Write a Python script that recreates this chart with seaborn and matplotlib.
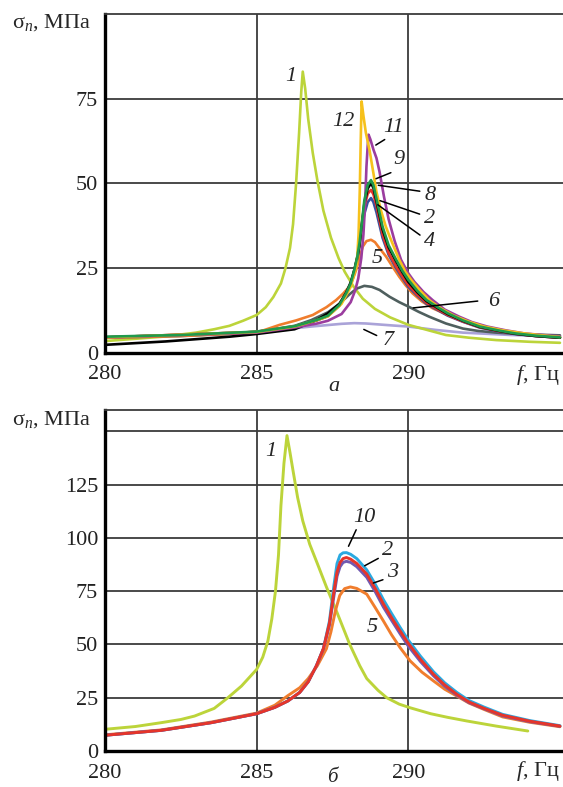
import matplotlib
matplotlib.use('Agg')
import matplotlib.pyplot as plt
import seaborn as sns

sns.set_style('white')
plt.rcParams['font.family'] = ['Liberation Serif', 'DejaVu Serif']
plt.rcParams['mathtext.fontset'] = 'custom'
plt.rcParams['mathtext.rm'] = 'Liberation Serif'
plt.rcParams['mathtext.it'] = 'Liberation Serif:italic'

# ---- panel а : stress amplitude vs frequency ----
a1_f = [280, 281.9, 283.0, 283.6, 284.1, 284.55, 285.0, 285.3, 285.55, 285.8, 285.95, 286.1, 286.2,
        286.3, 286.4, 286.47, 286.52, 286.6, 286.7, 286.85, 287.0, 287.2, 287.45, 287.7, 287.9,
        288.2, 288.5, 288.9, 289.4, 290.0, 290.7, 291.24, 292.0, 292.9, 294.0, 295.0]
a1_v = [3.5, 4.8, 6.0, 7.0, 8.0, 9.5, 11.2, 13.5, 16.5, 20.5, 25, 31, 38,
        50, 65, 77, 83, 78, 69, 59, 51, 42, 34, 28, 24,
        19.5, 16, 13, 10.5, 8.3, 6.6, 5.3, 4.5, 3.8, 3.3, 3.0]

a9_f = [280, 282.5, 285.0, 286.25, 287.0, 287.35, 287.73, 287.95, 288.1, 288.22, 288.32, 288.39,
        288.47, 288.55, 288.66, 288.77, 288.85, 288.95, 289.15, 289.35, 289.6, 289.8, 290.0,
        290.3, 290.6, 291.0, 291.3, 291.8, 292.35, 293.0, 293.5, 294.2, 295]
a9_v = [4.8, 5.3, 6.3, 7.9, 9.8, 11.0, 14.2, 17.6, 20.5, 24.5, 28.5, 32.4,
        38.5, 45, 49.5, 51, 49.5, 45.5, 37.3, 31.8, 27.5, 24.3, 21.6,
        18.3, 15.6, 13.3, 11.7, 9.6, 7.8, 6.6, 5.8, 5.1, 4.6]

a8_f = [280, 282, 284.1, 285.0, 286.25, 287.0, 287.35, 287.73, 287.95, 288.1, 288.22, 288.32,
        288.39, 288.47, 288.55, 288.66, 288.77, 288.85, 288.95, 289.15, 289.35, 289.6, 289.8,
        290.0, 290.3, 290.6, 291.0, 291.3, 291.8, 292.35, 293.0, 293.5, 294.2, 295]
a8_v = [2.4, 3.4, 4.8, 5.6, 7.0, 9.8, 11.7, 14.5, 17.8, 20.8, 24.5, 28.3,
        32, 38, 44, 48.5, 50.1, 48.7, 44.8, 36.5, 31.2, 27, 23.9,
        21, 17.9, 15.3, 13.1, 11.5, 9.5, 7.7, 6.5, 5.7, 5.0, 4.5]

a2_f = [280, 285.0, 286.25, 287.0, 287.35, 287.73, 287.95, 288.1, 288.22, 288.32, 288.39, 288.47,
        288.55, 288.66, 288.77, 288.85, 288.95, 289.15, 289.35, 289.6, 289.8, 290.0, 290.3,
        290.6, 291.0, 291.3, 291.8, 292.35, 293.0, 293.5, 294.2, 295]
a2_v = [4.6, 6.2, 7.8, 9.7, 10.9, 14.0, 17.4, 20.3, 24.2, 28.2, 32, 38,
        43, 47, 48.1, 46.8, 43.5, 35, 29.5, 25.5, 22.6, 20, 17.2,
        14.8, 12.7, 11.2, 9.3, 7.6, 6.4, 5.7, 5.0, 4.5]

a4_f = [280, 285.0, 286.25, 287.0, 287.35, 287.73, 287.95, 288.1, 288.22, 288.32, 288.39, 288.47,
        288.55, 288.66, 288.77, 288.85, 288.95, 289.15, 289.35, 289.6, 289.8, 290.0, 290.3,
        290.6, 291.0, 291.3, 291.8, 292.35, 293.0, 293.5, 294.2, 295]
a4_v = [4.6, 6.2, 7.8, 9.7, 10.9, 14.0, 17.4, 20.2, 24.0, 28, 31.5, 37.5,
        41, 44.5, 45.7, 44.5, 41.5, 34, 29, 25, 22.2, 19.5, 16.9,
        14.5, 12.5, 11.0, 9.2, 7.5, 6.3, 5.6, 5.0, 4.5]

a11_f = [280, 285.0, 286.25, 287.0, 287.35, 287.8, 288.1, 288.25, 288.35, 288.45, 288.52, 288.57,
         288.62, 288.66, 288.69, 288.75, 288.85, 288.95, 289.05, 289.2, 289.35, 289.55, 289.76,
         290.0, 290.2, 290.5, 290.8, 291.2, 291.68, 292.1, 292.6, 293.2, 293.8, 294.4, 295]
a11_v = [4.6, 6.0, 7.5, 8.7, 9.5, 11.5, 15, 18.5, 22, 28, 35, 43,
         55, 61, 64.4, 63, 60, 57.5, 53.5, 46, 39.5, 33, 27.5,
         23.5, 21, 18, 15.6, 12.8, 10.7, 9.1, 7.8, 6.7, 5.8, 5.3, 4.9]

a12_f = [280, 285.0, 286.25, 287.0, 287.35, 287.8, 288.1, 288.3, 288.36, 288.4, 288.43, 288.46,
         288.52, 288.6, 288.72, 288.85, 288.95, 289.1, 289.25, 289.4, 289.7, 289.9, 290.1,
         290.4, 290.7, 291.1, 291.5, 292.0, 292.5, 293.1, 293.8, 294.4, 295]
a12_v = [4.6, 6.2, 7.8, 9.7, 10.8, 14.5, 19.5, 26, 35, 48, 62, 74.2,
         70, 65, 59.9, 53, 47.5, 42, 37.5, 34, 27.5, 24, 21.5,
         18.3, 15.5, 13, 11, 9.2, 7.8, 6.7, 5.8, 5.2, 4.7]

a5_f = [280, 282.5, 285.0, 285.76, 286.3, 286.85, 287.3, 287.62, 287.85, 288.06, 288.18, 288.28,
        288.4, 288.5, 288.62, 288.77, 288.9, 289.0, 289.27, 289.5, 289.7, 289.9, 290.14,
        290.45, 290.8, 291.2, 291.6, 292.1, 292.6, 293.2, 293.8, 294.4, 295]
a5_v = [4.5, 5.0, 6.0, 8.3, 9.6, 11.2, 13.5, 15.6, 17.5, 19.6, 22, 24.5,
        28.3, 31.4, 33, 33.4, 32.7, 31.5, 28.4, 25.2, 22.5, 20.1, 17.6,
        15.2, 13.2, 11.6, 10.2, 8.6, 7.3, 6.3, 5.5, 5.0, 4.6]

a6_f = [280, 282.5, 284.0, 285.0, 285.7, 286.25, 286.8, 287.35, 287.73, 288.06, 288.3, 288.55,
        288.8, 289.05, 289.38, 289.7, 290.0, 290.35, 290.69, 291.24, 291.8, 292.3, 292.9,
        293.9, 295]
a6_v = [4.5, 5.0, 5.6, 6.3, 7.2, 8.0, 9.7, 12.0, 14.5, 17.3, 19.0, 19.8,
        19.5, 18.6, 16.6, 15.0, 13.7, 12.1, 10.7, 8.7, 7.2, 6.5, 6.0,
        5.5, 5.2]

a7_f = [280, 281.5, 282.5, 283.8, 285.0, 285.7, 286.25, 286.8, 287.3, 287.8, 288.22, 288.6,
        289.05, 289.5, 290.0, 290.9, 291.8, 293.4, 295]
a7_v = [4.6, 4.9, 5.2, 5.6, 6.0, 6.7, 7.3, 7.8, 8.2, 8.6, 8.8, 8.7,
        8.4, 8.1, 7.8, 6.8, 6.0, 5.3, 4.9]

# ---- panel б ----
b1_f = [280, 281.0, 281.85, 282.5, 282.95, 283.6, 284.05, 284.5, 285.0, 285.2, 285.37, 285.5,
        285.62, 285.72, 285.8, 285.9, 286.0, 286.1, 286.2, 286.35, 286.52, 286.75, 287.0,
        287.3, 287.63, 288.07, 288.4, 288.63, 289.0, 289.29, 289.7, 290.06, 290.74, 291.3,
        291.93, 292.9, 293.94]
b1_v = [10.2, 11.5, 13.3, 14.8, 16.4, 20, 25, 30.5, 38.3, 44, 51.6, 62,
        75, 92, 115, 135, 148, 140, 131.5, 119, 108, 97, 88,
        77, 65.7, 50, 40, 34, 28.5, 25, 22, 20.3, 17.5, 15.8,
        14.1, 11.7, 9.4]

b5_f = [280, 281.85, 283.5, 285.0, 285.6, 286.03, 286.42, 286.7, 287.0, 287.3, 287.45, 287.6,
        287.74, 287.9, 288.09, 288.3, 288.63, 288.9, 289.18, 289.45, 289.73, 290.06, 290.45,
        290.83, 291.2, 291.6, 292.0, 292.5, 293.11, 294.0, 295]
b5_v = [7.6, 9.9, 13.6, 17.8, 21.5, 26, 29.7, 34, 40, 48, 56, 66,
        73, 76.2, 77, 76.3, 73.6, 67.5, 61, 54.5, 48.5, 42.3, 37,
        32.9, 29, 25.8, 22.5, 19.5, 16, 13.5, 11.4]

b10_f = [280, 281.85, 283.5, 285.0, 285.6, 286.03, 286.42, 286.7, 286.97, 287.2, 287.4, 287.55,
         287.65, 287.75, 287.85, 287.96, 288.1, 288.3, 288.63, 288.9, 289.18, 289.45, 289.73,
         290.0, 290.4, 290.83, 291.2, 291.6, 292.0, 292.5, 293.11, 294.0, 295]
b10_v = [7.4, 9.7, 13.3, 17.5, 20.5, 23.5, 27.5, 32.5, 40, 48, 61, 78,
         88, 92, 93, 93.1, 92.3, 90.3, 85, 78.5, 71, 64.5, 58,
         52, 44.5, 37.2, 32, 27.5, 23.7, 20.6, 17.2, 14.3, 11.9]

b3_f = [280, 281.85, 283.5, 285.0, 285.6, 286.03, 286.42, 286.7, 286.97, 287.2, 287.4, 287.55,
        287.65, 287.75, 287.85, 287.96, 288.1, 288.3, 288.63, 288.9, 289.18, 289.45, 289.73,
        290.0, 290.4, 290.83, 291.2, 291.6, 292.0, 292.5, 293.11, 294.0, 295]
b3_v = [7.4, 9.7, 13.3, 17.5, 20.5, 23.5, 27.5, 32.5, 40, 48, 59, 73,
         82, 86.5, 88.5, 89, 88.5, 86.5, 81.5, 75, 67.5, 61.3, 55,
         49.2, 42, 35.3, 30.4, 26.2, 22.7, 19.8, 16.5, 13.8, 11.6]

b2_f = [280, 281.85, 283.5, 285.0, 285.6, 286.03, 286.42, 286.7, 286.97, 287.2, 287.4, 287.55,
        287.65, 287.75, 287.85, 287.96, 288.1, 288.3, 288.63, 288.9, 289.18, 289.45, 289.73,
        290.0, 290.4, 290.83, 291.2, 291.6, 292.0, 292.5, 293.11, 294.0, 295]
b2_v = [7.4, 9.7, 13.3, 17.5, 20.5, 23.5, 27.5, 32.5, 40, 48, 60, 75,
        84, 88.5, 90.3, 90.8, 90, 88, 83, 76.5, 69, 62.5, 56.3,
        50.5, 43, 36, 31, 26.6, 23, 20, 16.8, 14, 11.7]

c_yg = '#bcd43a'
c_gold = '#f6c11c'
c_purple = '#9b3d9f'
c_green = '#1f9a4c'
c_red = '#e5352a'
c_blue = '#3550a2'
c_orange = '#f07d2d'
c_gray = '#4f5f5e'
c_lav = '#aaa3d8'
c_cyan = '#2aa9e0'
c_violet = '#7159b0'

fig = plt.figure(figsize=(5.63, 7.87), dpi=100)
ax_a = fig.add_axes([0.1865, 0.5515, 0.8135, 0.4307])
ax_b = fig.add_axes([0.1865, 0.0457, 0.8135, 0.4333])


def style_axes(ax, ymax, yticks, ylabels):
    ax.set_xlim(280, 295.1)
    ax.set_ylim(0, ymax)
    ax.set_xticks([280, 285, 290])
    ax.set_xticklabels(['280', '285', '290'])
    ax.set_yticks(yticks)
    ax.set_yticklabels(ylabels)
    ax.grid(True, color='#3c3c3c', linewidth=1.3)
    ax.set_axisbelow(True)
    for s in ['left', 'bottom']:
        ax.spines[s].set_linewidth(2.4)
        ax.spines[s].set_color('black')
    ax.spines['top'].set_linewidth(1.3)
    ax.spines['top'].set_color('#3c3c3c')
    ax.spines['right'].set_visible(False)
    ax.tick_params(axis='x', length=0, labelsize=16, pad=9, labelcolor='#222222')
    ax.tick_params(axis='y', length=0, labelsize=16, pad=5, labelcolor='#222222')
    ax.set_xlabel('')
    ax.set_ylabel('')


lw = 1.9
top_curves = [(a7_f, a7_v, c_lav), (a1_f, a1_v, c_yg), (a6_f, a6_v, c_gray),
              (a5_f, a5_v, c_orange), (a4_f, a4_v, c_blue), (a2_f, a2_v, c_red),
              (a8_f, a8_v, 'black'), (a11_f, a11_v, c_purple), (a12_f, a12_v, c_gold),
              (a9_f, a9_v, c_green)]
for f, v, c in top_curves:
    sns.lineplot(x=f, y=v, color=c, linewidth=lw, sort=False, ax=ax_a)

bottom_curves = [(b1_f, b1_v, c_yg), (b5_f, b5_v, c_orange), (b10_f, b10_v, c_cyan),
                 (b3_f, b3_v, c_violet), (b2_f, b2_v, c_red)]
for f, v, c in bottom_curves:
    sns.lineplot(x=f, y=v, color=c, linewidth=2.1, sort=False, ax=ax_b)

style_axes(ax_a, 100, [0, 25, 50, 75], ['0', '25', '50', '75'])
style_axes(ax_b, 160, [0, 25, 50, 75, 100, 125, 150],
           ['0', '25', '50', '75', '100', '125', ''])

lab = dict(fontsize=16, style='italic', ha='center', va='center')
line = dict(arrowstyle='-', color='black', lw=1.1)

# curve numbers, panel а
ax_a.text(286.12, 81.6, '1', **lab)
ax_a.text(287.86, 68.3, '12', **lab)
ax_a.text(289.5, 66.6, '11', **lab)
ax_a.text(289.68, 57.0, '9', **lab)
ax_a.text(290.71, 46.6, '8', **lab)
ax_a.text(290.71, 39.8, '2', **lab)
ax_a.text(290.71, 32.9, '4', **lab)
ax_a.text(288.98, 28.0, '5', **lab)
ax_a.text(292.8, 15.1, '6', **lab)
ax_a.text(289.34, 3.8, '7', **lab)
for tip, start in [((288.85, 60.9), (289.3, 63.4)), ((288.85, 51.1), (289.51, 53.5)),
                   ((288.92, 49.6), (290.47, 47.6)), ((288.98, 45.2), (290.46, 40.7)),
                   ((288.92, 44.2), (290.46, 34.3)), ((290.07, 13.2), (292.38, 15.4)),
                   ((288.45, 7.3), (289.04, 4.8))]:
    ax_a.annotate('', xy=tip, xytext=start, arrowprops=line)

# curve numbers, panel б
ax_b.text(285.48, 140.4, '1', **lab)
ax_b.text(288.54, 109.8, '10', **lab)
ax_b.text(289.31, 94.1, '2', **lab)
ax_b.text(289.47, 83.9, '3', **lab)
ax_b.text(288.82, 58.0, '5', **lab)
for tip, start in [((287.99, 94.9), (288.32, 105)), ((288.48, 86.3), (289.09, 91)),
                   ((288.76, 78.4), (289.25, 80.8))]:
    ax_b.annotate('', xy=tip, xytext=start, arrowprops=line)

W, H = 563, 787
for ytop in [23, 420]:
    fig.text(12 / W, 1 - ytop / H, 'σ$_n$, МПа', fontsize=16, ha='left', va='center')
for ybot in [375, 771]:
    fig.text(516 / W, 1 - ybot / H, '$f$, Гц', fontsize=16, ha='left', va='center')
fig.text(334 / W, 1 - 386 / H, 'а', fontsize=16, style='italic', ha='center', va='center')
fig.text(332 / W, 1 - 777 / H, 'б', fontsize=15, style='italic', ha='center', va='center')

fig.savefig('out.png', dpi=100)
